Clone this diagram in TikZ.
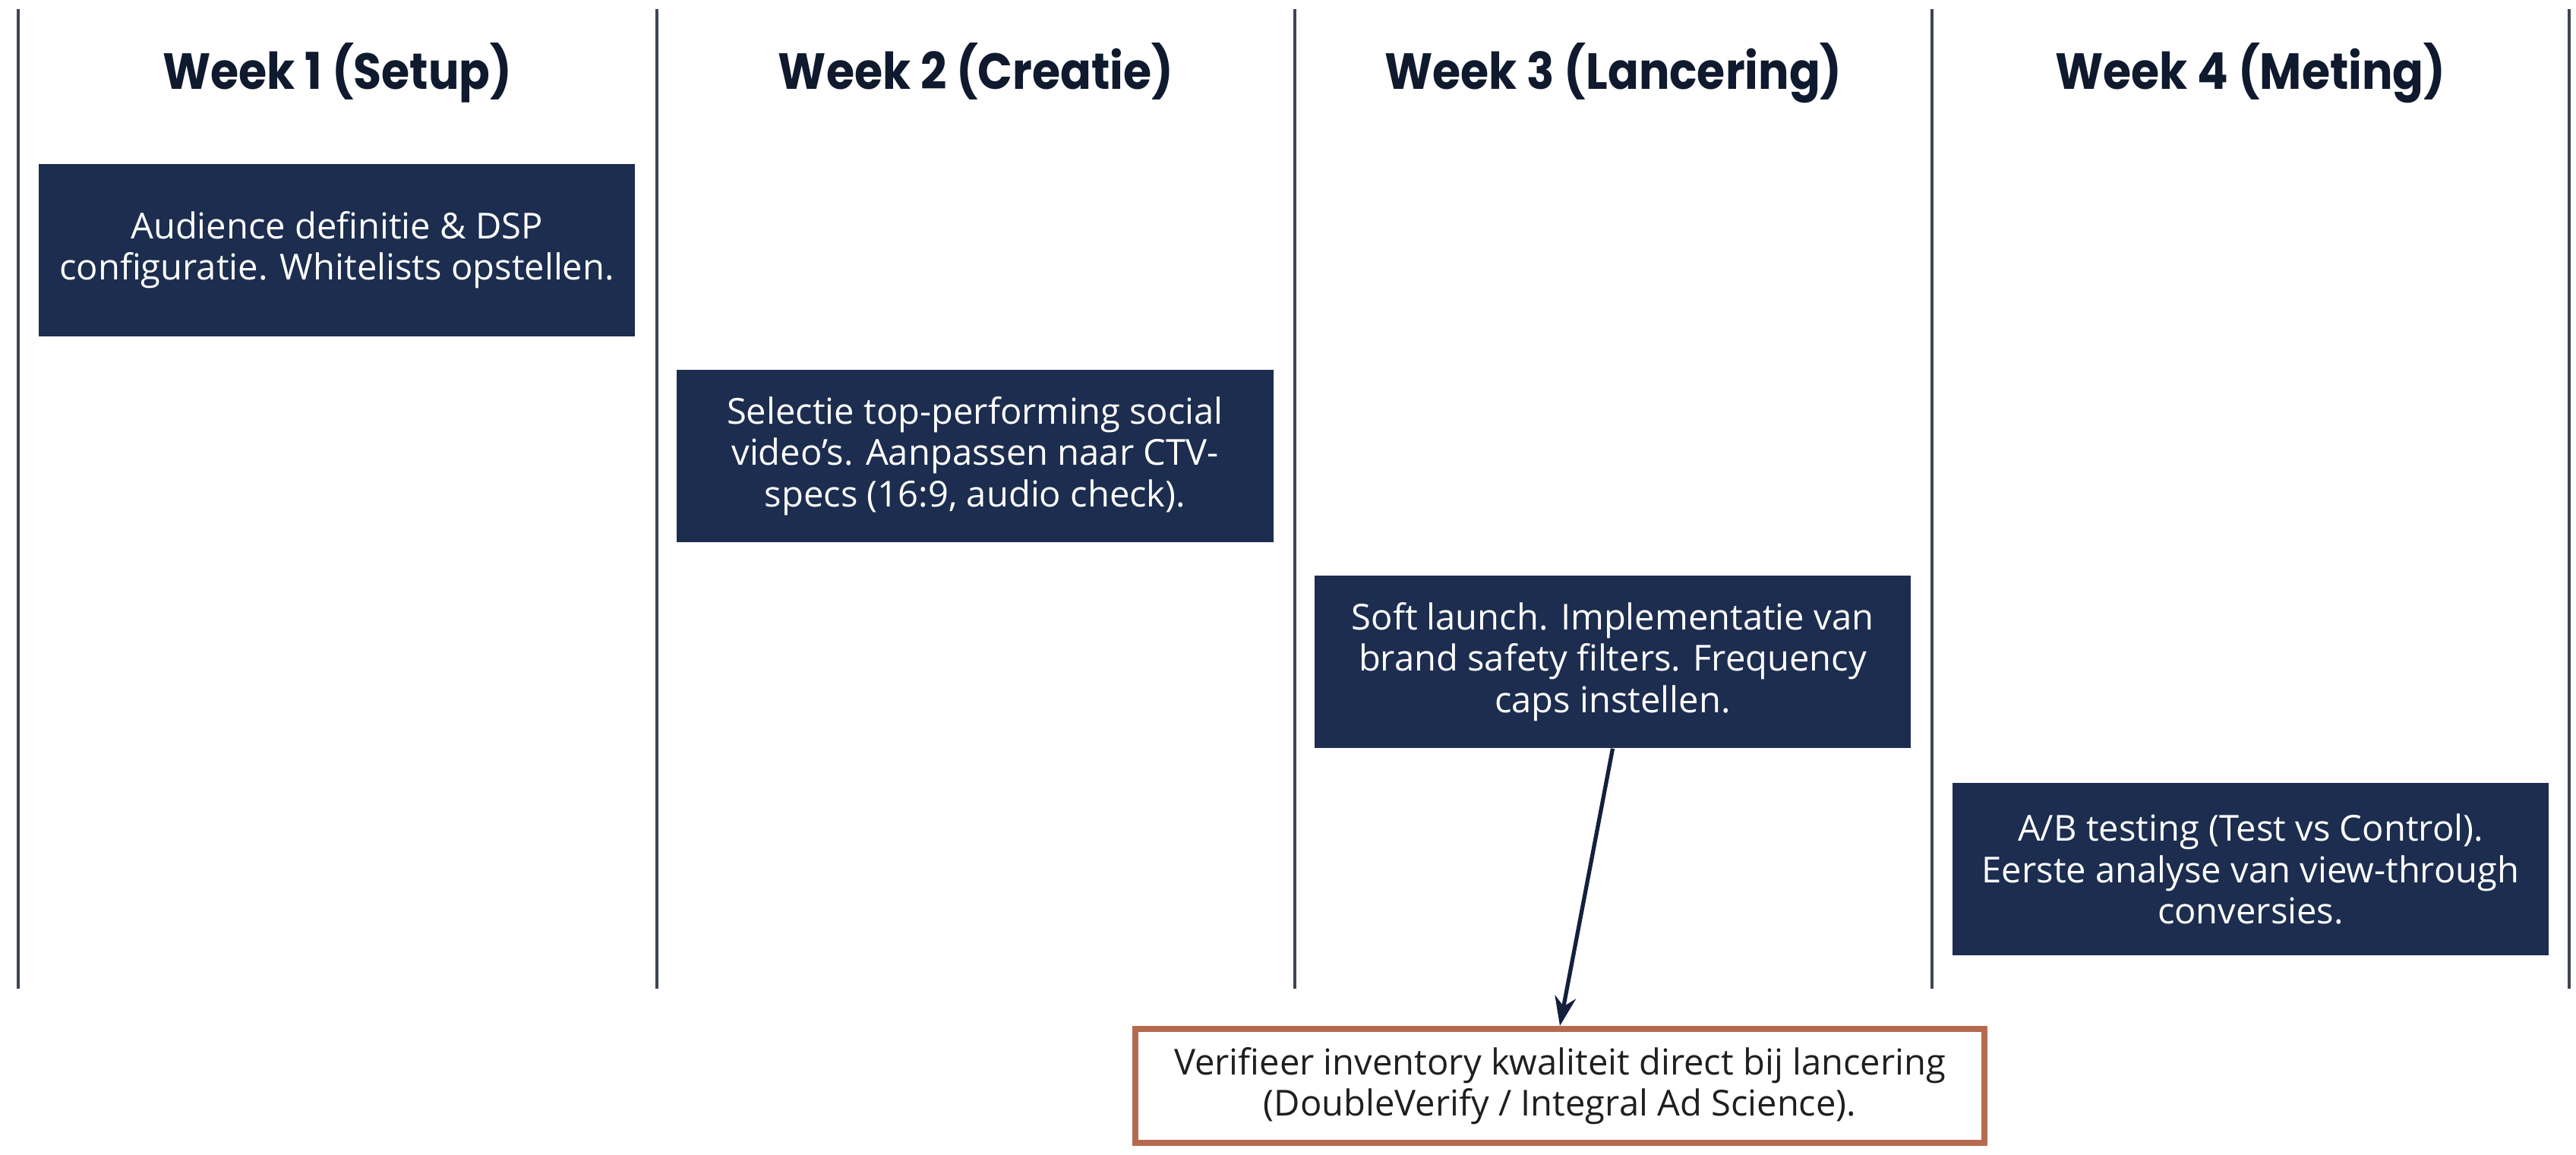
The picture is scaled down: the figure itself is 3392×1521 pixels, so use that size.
\documentclass[tikz,border=0pt]{standalone}
\usepackage{fontspec}
\setmainfont{Open Sans}
\newfontfamily\titlefont{Poppins}[FakeStretch=0.9]
\usetikzlibrary{arrows.meta}
\definecolor{navy}{HTML}{1C2D4F}
\definecolor{rulegray}{HTML}{3E4552}
\definecolor{ink}{HTML}{0F1A2E}
\definecolor{rust}{HTML}{B66A50}
\definecolor{arrowc}{HTML}{13213D}
\begin{document}
\begin{tikzpicture}[x=0.01cm,y=-0.01cm,
  divider/.style={draw=rulegray, line width=1.2pt},
  heading/.style={anchor=base, inner sep=0pt, text=ink,
    font=\titlefont\bfseries\fontsize{19}{22}\selectfont},
  task/.style={fill=navy, text=white, minimum width=7.85cm, minimum height=2.27cm,
    align=center, inner sep=0pt, font=\fontsize{13.4}{15.4}\selectfont},
  note/.style={draw=rust, line width=2.3pt, fill=white, text=black!88,
    minimum width=11.17cm, minimum height=1.5cm, align=center, inner sep=0pt,
    font=\fontsize{13.4}{15.4}\selectfont},
  link/.style={draw=arrowc, line width=1.5pt, -{Stealth[length=11pt,width=8pt]}}
]
\useasboundingbox (0,0) rectangle (3392,1521);

% column dividers
\foreach \x [count=\i] in {24,865,1705,2544,3383}
  \draw[divider] (\x,12) coordinate (top\i) -- (\x,1302) coordinate (bot\i);

% column headings
\node[heading] (h1) at (444.5,117) {Week 1 (Setup)};
\node[heading] (h2) at (1285,117) {Week 2 (Creatie)};
\node[heading] (h3) at (2124.5,117) {Week 3 (Lancering)};
\node[heading] (h4) at (2963.5,117) {Week 4 (Meting)};

% weekly tasks
\node[task] (t1) at (443.5,329.5) {Audience definitie \& DSP\\configuratie. Whitelists opstellen.};
\node[task] (t2) at (1284,600.5) {Selectie top-performing social\\video’s. Aanpassen naar CTV-\\specs (16:9, audio check).};
\node[task] (t3) at (2123.5,871.5) {Soft launch. Implementatie van\\brand safety filters. Frequency\\caps instellen.};
\node[task] (t4) at (2963.5,1144.5) {A/B testing (Test vs Control).\\Eerste analyse van view-through\\conversies.};

% verification note
\node[note] (n) at (2054,1430) {Verifieer inventory kwaliteit direct bij lancering\\(DoubleVerify / Integral Ad Science).};

\draw[link] (t3.south) -- (n.north);
\end{tikzpicture}
\end{document}
